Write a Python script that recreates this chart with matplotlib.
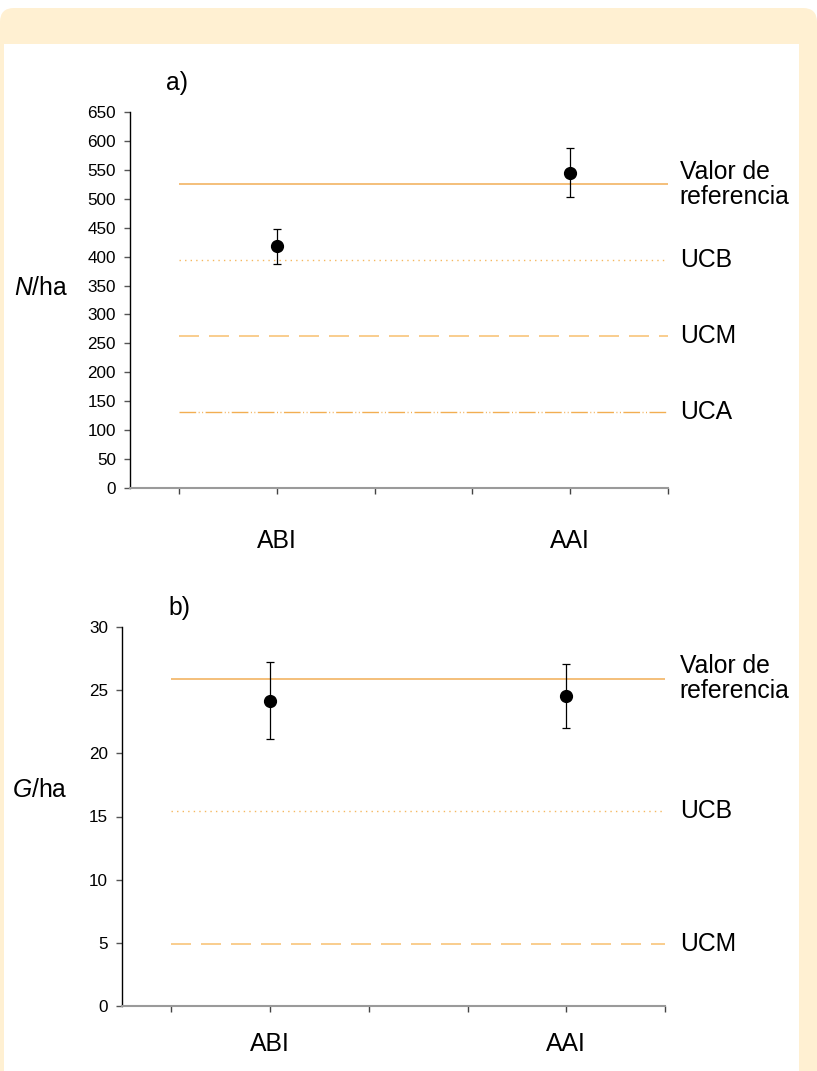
import matplotlib.pyplot as plt
from matplotlib.patches import FancyBboxPatch, Rectangle
from matplotlib.transforms import IdentityTransform

plt.rcParams['font.family'] = ['Liberation Sans', 'DejaVu Sans']
plt.rcParams['mathtext.fontset'] = 'custom'
plt.rcParams['mathtext.it'] = 'Liberation Sans:italic'
plt.rcParams['mathtext.rm'] = 'Liberation Sans'

# data
groups = ['ABI', 'AAI']
group_pos = [1, 4]

dens_mean = [418, 545]
dens_err = [30, 42]
dens_refs = [525, 394, 263, 131]
dens_ref_labels = ['Valor de\nreferencia', 'UCB', 'UCM', 'UCA']

basal_mean = [24.15, 24.55]
basal_err = [3.05, 2.55]
basal_refs = [25.9, 15.4, 4.9]
basal_ref_labels = ['Valor de\nreferencia', 'UCB', 'UCM']

ref_styles = [
    ('-', '#F2B463', 1.2),
    ((0, (1, 3)), '#F5B860', 1.0),
    ((0, (12, 6)), '#F8C57A', 1.2),
    ((0, (12, 1.8, 0.7, 1.8, 0.7, 1.8)), '#F2AE52', 1.0),
]

FS = 17.8
W, H = 817, 1071
fig = plt.figure(figsize=(W / 100, H / 100), dpi=100)

# cream frame with rounded top and white inner panel
frame = FancyBboxPatch((0, -40), W, H - 8 + 40, boxstyle='round,pad=0,rounding_size=14',
                       transform=IdentityTransform(), facecolor='#FFF0D2', edgecolor='none',
                       zorder=-20)
fig.patches.append(frame)
inner = Rectangle((4, 0), 795, H - 44, transform=IdentityTransform(),
                  facecolor='white', edgecolor='none', zorder=-10)
fig.patches.append(inner)


def style_axes(ax, ymax, ystep):
    ax.set_facecolor('none')
    ax.set_xlim(-0.5, 5)
    ax.set_ylim(0, ymax)
    ax.set_yticks(range(0, ymax + 1, ystep))
    ax.set_xticks(range(0, 6))
    ax.set_xticklabels([])
    for s in ['top', 'right']:
        ax.spines[s].set_visible(False)
    ax.spines['left'].set_color('black')
    ax.spines['left'].set_linewidth(1.0)
    ax.spines['bottom'].set_color('#9a9a9a')
    ax.spines['bottom'].set_linewidth(1.5)
    ax.tick_params(axis='y', length=4, width=1, color='#555555', pad=6, labelsize=12.3)
    ax.tick_params(axis='x', length=4, width=1, color='#444444')


def draw_panel(ax, means, errs, refs, labels, text_x, lab_y):
    for val, (ls, col, lw) in zip(refs, ref_styles):
        ax.hlines(val, 0, 5, colors=col, linestyles=ls, linewidth=lw, zorder=2)
    for val, lab in zip(refs, labels):
        ax.text(text_x, val, lab, ha='left', va='center', fontsize=FS,
                linespacing=1.05, clip_on=False)
    ax.errorbar(group_pos, means, yerr=errs, fmt='o', color='black', ms=8.5,
                capsize=3, elinewidth=0.9, capthick=0.9, zorder=5)
    for p, g in zip(group_pos, groups):
        ax.text(p, lab_y, g, transform=ax.get_xaxis_transform(), ha='center',
                va='center', fontsize=FS)


ax1 = fig.add_axes([130 / W, 1 - 488 / H, 538 / W, 376 / H])
style_axes(ax1, 650, 50)
draw_panel(ax1, dens_mean, dens_err, dens_refs, dens_ref_labels, 5.12, -53 / 376)

ax2 = fig.add_axes([122 / W, 1 - 1006 / H, 543 / W, 379 / H])
style_axes(ax2, 30, 5)
draw_panel(ax2, basal_mean, basal_err, basal_refs, basal_ref_labels, 5.15, -38 / 379)

fig.text(166 / W, 1 - 83 / H, 'a)', fontsize=FS, va='center', ha='left')
fig.text(168 / W, 1 - 608 / H, 'b)', fontsize=FS, va='center', ha='left')
fig.text(68 / W, 1 - 288 / H, '$N$/ha', fontsize=FS, va='center', ha='right')
fig.text(68 / W, 1 - 790 / H, '$G$/ha', fontsize=FS, va='center', ha='right')

fig.savefig('out.png', dpi=100)
